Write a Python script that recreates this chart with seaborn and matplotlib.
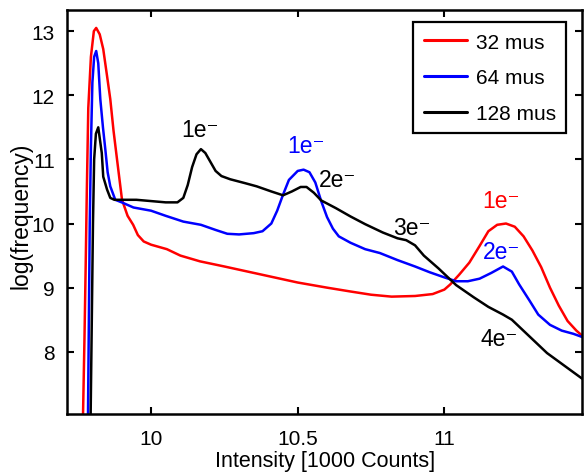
import numpy as np
import pandas as pd
import seaborn as sns
import matplotlib
matplotlib.use("Agg")
import matplotlib.pyplot as plt

# values
red_x = [9.768, 9.773, 9.777, 9.781, 9.786, 9.795, 9.805, 9.813, 9.825, 9.837, 9.85, 9.861,
         9.872, 9.884, 9.901, 9.92, 9.939, 9.955, 9.975, 10.0, 10.054, 10.1, 10.167, 10.25,
         10.34, 10.42, 10.5, 10.6, 10.68, 10.75, 10.82, 10.9, 10.96, 11.0, 11.02, 11.05,
         11.085, 11.12, 11.15, 11.18, 11.21, 11.24, 11.27, 11.3, 11.33, 11.36, 11.39, 11.42,
         11.45, 11.47]
red_y = [7.0, 8.2, 9.3, 10.5, 11.8, 12.6, 13.0, 13.05, 12.95, 12.72, 12.3, 11.94,
         11.45, 11.0, 10.37, 10.12, 9.98, 9.82, 9.72, 9.67, 9.6, 9.5, 9.41, 9.33,
         9.24, 9.16, 9.08, 9.0, 8.94, 8.89, 8.86, 8.87, 8.9, 8.97, 9.05, 9.2,
         9.39, 9.65, 9.88, 9.98, 10.0, 9.95, 9.8, 9.58, 9.32, 9.0, 8.72, 8.48,
         8.33, 8.25]

blue_x = [9.785, 9.788, 9.791, 9.795, 9.8, 9.806, 9.813, 9.82, 9.827, 9.836, 9.844, 9.852,
          9.861, 9.878, 9.9, 9.94, 10.0, 10.05, 10.11, 10.17, 10.22, 10.26, 10.3, 10.35,
          10.38, 10.41, 10.43, 10.45, 10.47, 10.5, 10.52, 10.54, 10.56, 10.58, 10.6, 10.62,
          10.64, 10.68, 10.73, 10.78, 10.84, 10.9, 10.95, 11.0, 11.04, 11.08, 11.12, 11.16,
          11.2, 11.23, 11.255, 11.29, 11.32, 11.36, 11.4, 11.44, 11.47]
blue_y = [7.0, 8.5, 10.0, 11.2, 12.2, 12.6, 12.69, 12.5, 11.94, 11.5, 11.16, 10.8,
          10.58, 10.37, 10.33, 10.25, 10.2, 10.12, 10.03, 9.98, 9.9, 9.84, 9.83, 9.85,
          9.88, 10.0, 10.2, 10.45, 10.68, 10.82, 10.84, 10.8, 10.64, 10.35, 10.1, 9.92,
          9.8, 9.7, 9.6, 9.54, 9.43, 9.33, 9.24, 9.16, 9.1, 9.1, 9.14, 9.23,
          9.33, 9.25, 9.05, 8.8, 8.58, 8.42, 8.33, 8.28, 8.23]

black_x = [9.794, 9.798, 9.802, 9.806, 9.812, 9.82, 9.826, 9.832, 9.837, 9.85, 9.861, 9.875,
           9.95, 10.0, 10.05, 10.09, 10.11, 10.125, 10.14, 10.155, 10.17, 10.185, 10.2,
           10.22, 10.24, 10.27, 10.32, 10.36, 10.41, 10.45, 10.48, 10.51, 10.53, 10.555,
           10.58, 10.63, 10.68, 10.73, 10.79, 10.84, 10.87, 10.9, 10.93, 10.98, 11.04, 11.1,
           11.15, 11.2, 11.23, 11.29, 11.35, 11.41, 11.47]
black_y = [7.0, 8.5, 10.0, 11.0, 11.4, 11.5, 11.3, 11.1, 10.73, 10.53, 10.4, 10.37,
           10.37, 10.35, 10.33, 10.33, 10.4, 10.6, 10.88, 11.08, 11.16, 11.1, 10.98,
           10.82, 10.74, 10.69, 10.63, 10.58, 10.5, 10.44, 10.5, 10.57, 10.57, 10.48,
           10.36, 10.24, 10.11, 9.99, 9.86, 9.77, 9.74, 9.66, 9.5, 9.3, 9.04, 8.85,
           8.7, 8.58, 8.5, 8.24, 7.98, 7.78, 7.58]

series = ["32 mus", "64 mus", "128 mus"]
colors = ["#ff0000", "#0000ff", "#000000"]

# peak annotations: text, x, y, colour index
peak_text = ["1e", "1e", "2e", "3e", "1e", "2e", "4e"]
peak_x = [10.167, 10.527, 10.636, 10.888, 11.194, 11.194, 11.187]
peak_y = [11.47, 11.22, 10.69, 9.94, 10.36, 9.56, 8.2]
peak_c = [2, 1, 2, 2, 0, 1, 2]

df = pd.concat([
    pd.DataFrame({"x": red_x, "y": red_y, "series": series[0]}),
    pd.DataFrame({"x": blue_x, "y": blue_y, "series": series[1]}),
    pd.DataFrame({"x": black_x, "y": black_y, "series": series[2]}),
])

sns.set_style("ticks", {"axes.edgecolor": "black", "xtick.color": "black",
                        "ytick.color": "black", "text.color": "black",
                        "axes.labelcolor": "black"})
plt.rcParams["font.family"] = ["Liberation Sans", "DejaVu Sans"]

fig = plt.figure(figsize=(5.84, 4.77), dpi=100)
ax = fig.add_axes([0.115, 0.13, 0.882, 0.847])

sns.lineplot(data=df, x="x", y="y", hue="series", palette=dict(zip(series, colors)),
             linewidth=1.8, sort=False, ax=ax, legend=False)

for t, x, y, c in zip(peak_text, peak_x, peak_y, peak_c):
    ax.text(x, y, t + "\u207b", color=colors[c], fontsize=16.5, ha="center", va="center")

handles = [plt.Line2D([], [], color=c, linewidth=2.2) for c in colors]
leg = ax.legend(handles, series, loc="upper right", fontsize=15, frameon=True,
                fancybox=False, framealpha=1, edgecolor="black", handlelength=2.1,
                handletextpad=0.4, borderpad=0.5, labelspacing=0.8,
                bbox_to_anchor=(0.969, 0.970), borderaxespad=0)
leg.get_frame().set_linewidth(1.6)

ax.set_xlim(9.714, 11.47)
ax.set_ylim(7.03, 13.33)
ax.set_xticks([10, 10.5, 11])
ax.set_xticklabels(["10", "10.5", "11"])
ax.set_yticks([8, 9, 10, 11, 12, 13])
ax.tick_params(direction="in", length=5, width=1.5, top=True, right=True, labelsize=15)
ax.tick_params(axis="y", pad=9)
ax.tick_params(axis="x", pad=11)
for s in ax.spines.values():
    s.set_linewidth(1.8)
    s.set_visible(True)
ax.set_xlabel("Intensity [1000 Counts]", fontsize=15.5, labelpad=1)
ax.set_ylabel("log(frequency)", fontsize=16.5)
ax.yaxis.set_label_coords(-0.068, 0.493)

fig.savefig("out.png", dpi=100)
